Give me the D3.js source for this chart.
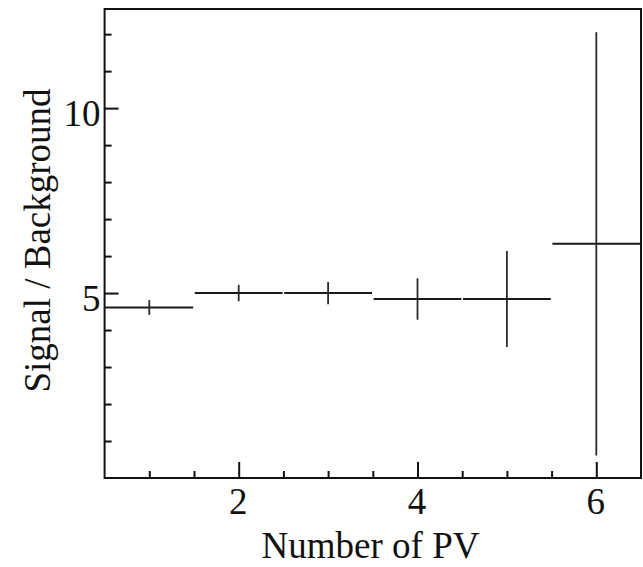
<!DOCTYPE html>
<html>
<head>
<meta charset="utf-8">
<script src="https://cdn.jsdelivr.net/npm/d3@7"></script>
<style>
  html, body { margin: 0; padding: 0; background: #fff; }
  svg text { font-family: "Liberation Serif", "DejaVu Serif", serif; fill: #111; }
</style>
</head>
<body>
<svg id="chart" width="643" height="567"></svg>
<script>
// bins of the histogram (number of primary vertices)
const pv = [1, 2, 3, 4, 5, 6];
const ratio = [4.61, 5.0, 5.0, 4.84, 4.84, 6.33];
const ratioErr = [0.2, 0.22, 0.3, 0.56, 1.3, 5.72];
const xMajorTicks = [2, 4, 6];
const xMinorTicks = [1, 1.5, 2.5, 3, 3.5, 4.5, 5, 5.5];
const yMajorTicks = [5, 10];
const yMinorTicks = [1, 2, 3, 4, 6, 7, 8, 9, 11, 12];

const svg = d3.select('#chart'),
  padLeft = 104.6,
  padRight = 641,
  padTop = 9,
  padBottom = 478,
  fontSize = 37;

const x = d3.scaleLinear().domain([0.5, 6.5]).range([padLeft, padRight]);
const y = d3.scaleLinear().domain([0, 12.68]).range([padBottom, padTop]);

// frame
svg.append('rect')
  .attr('x', padLeft)
  .attr('y', padTop)
  .attr('width', padRight - padLeft)
  .attr('height', padBottom - padTop)
  .attr('fill', 'none')
  .attr('stroke', '#111')
  .attr('stroke-width', 2);

// y axis: major ticks + labels, then minor ticks
const yAxis = svg.append('g')
  .attr('transform', `translate(${padLeft},0)`)
  .call(
    d3.axisLeft(y)
      .tickValues(yMajorTicks)
      .tickSize(-14)
      .tickSizeOuter(0)
      .tickPadding(4)
      .tickFormat(d3.format('d'))
  );
yAxis.select('.domain').remove();
yAxis.selectAll('line').attr('stroke', '#111').attr('stroke-width', 2);
yAxis.selectAll('text')
  .style('font-size', fontSize + 'px')
  .attr('dy', '0.47em');

const yMinor = svg.append('g')
  .attr('transform', `translate(${padLeft},0)`)
  .call(
    d3.axisLeft(y)
      .tickValues(yMinorTicks)
      .tickSize(-7)
      .tickSizeOuter(0)
      .tickFormat('')
  );
yMinor.select('.domain').remove();
yMinor.selectAll('line').attr('stroke', '#111').attr('stroke-width', 2);

// x axis
const xAxis = svg.append('g')
  .attr('transform', `translate(0,${padBottom})`)
  .call(
    d3.axisBottom(x)
      .tickValues(xMajorTicks)
      .tickSize(-16)
      .tickSizeOuter(0)
      .tickPadding(9.7)
      .tickFormat(d3.format('d'))
  );
xAxis.select('.domain').remove();
xAxis.selectAll('line').attr('stroke', '#111').attr('stroke-width', 2);
xAxis.selectAll('text')
  .style('font-size', fontSize + 'px')
  .attr('x', -1);

const xMinor = svg.append('g')
  .attr('transform', `translate(0,${padBottom})`)
  .call(
    d3.axisBottom(x)
      .tickValues(xMinorTicks)
      .tickSize(-7)
      .tickSizeOuter(0)
      .tickFormat('')
  );
xMinor.select('.domain').remove();
xMinor.selectAll('line').attr('stroke', '#111').attr('stroke-width', 2);

// data points with errors
const bins = pv.map((d, i) => ({ pv: d, v: ratio[i], e: ratioErr[i] }));
const pts = svg.append('g').attr('class', 'points');

pts.selectAll('line.h')
  .data(bins)
  .join('line')
  .attr('class', 'h')
  .attr('x1', d => x(d.pv - 0.5) + (d.pv === 1 ? 0 : 0.8))
  .attr('x2', d => x(d.pv + 0.5) - 0.8)
  .attr('y1', d => y(d.v))
  .attr('y2', d => y(d.v))
  .attr('stroke', '#1a1a1a')
  .attr('stroke-width', 2);

pts.selectAll('line.v')
  .data(bins)
  .join('line')
  .attr('class', 'v')
  .attr('x1', d => x(d.pv))
  .attr('x2', d => x(d.pv))
  .attr('y1', d => y(d.v - d.e))
  .attr('y2', d => y(d.v + d.e))
  .attr('stroke', '#2a2a2a')
  .attr('stroke-width', 1.8);

// axis titles
svg.append('text')
  .attr('x', 370.5)
  .attr('y', 558)
  .attr('text-anchor', 'middle')
  .style('font-size', fontSize + 'px')
  .text('Number of PV');

svg.append('text')
  .attr('transform', 'translate(50,240.5) rotate(-90)')
  .attr('text-anchor', 'middle')
  .style('font-size', fontSize + 'px')
  .text('Signal / Background');
</script>
</body>
</html>
